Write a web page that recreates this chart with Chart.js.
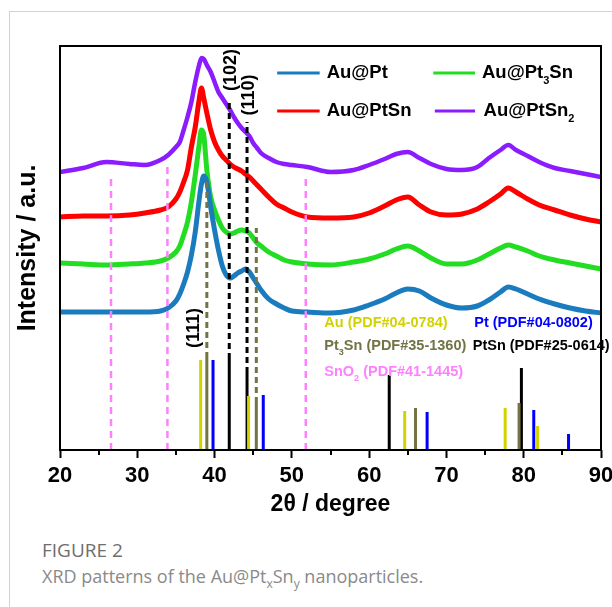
<!DOCTYPE html>
<html>
<head>
<meta charset="utf-8">
<script src="https://cdn.jsdelivr.net/npm/chart.js@4.4.0/dist/chart.umd.min.js"></script>
<style>
  html, body { margin: 0; padding: 0; background: #fff; }
  body { width: 612px; height: 607px; position: relative; overflow: hidden; }
  #frame { position: absolute; left: 9px; top: 11px; width: 620px; height: 620px; border-left: 1px solid #d2d2d2; border-top: 1px solid #d2d2d2; }
  #wrap { position: absolute; left: 0; top: 0; width: 612px; height: 525px; }
  .fig { position: absolute; left: 42px; top: 537px; font-family: 'Open Sans', 'Noto Sans', sans-serif; font-size: 19px; color: #6e6e6e; }
  .cap { position: absolute; left: 42px; top: 564px; font-family: 'Open Sans', 'Noto Sans', sans-serif; font-size: 18px; color: #8a8a8a; }
  .cap sub { font-size: 12px; }
</style>
</head>
<body>
<div id="frame"></div>
<div id="wrap"><canvas id="xrd" width="612" height="525"></canvas></div>
<div class="fig">FIGURE 2</div>
<div class="cap">XRD patterns of the Au@Pt<sub>x</sub>Sn<sub>y</sub> nanoparticles.</div>
<script>
// 2θ grid (degrees) shared by the four patterns
const twoTheta = [20, 23, 26, 29, 31, 33, 34, 35, 35.5, 36, 36.5, 37, 37.5, 38, 38.3, 38.6,
  39, 39.5, 40, 40.5, 41, 41.5, 42, 42.5, 43, 43.5, 44, 44.5, 45, 45.5, 46, 47,
  48, 49, 50, 52, 55, 58, 60, 62, 63.5, 65, 66.5, 68, 70, 72, 74, 75.5,
  77, 78, 79, 80.5, 82, 84, 86, 88, 90];

// intensities (a.u., already offset for stacking)
const auPt = [138, 138, 138, 138, 138, 139, 142, 149, 156, 166, 178, 195, 218, 250, 266, 274,
  268, 243, 220, 200, 184, 175, 172, 174, 177, 179, 181, 178, 172, 166, 160, 151,
  146, 142, 139, 138, 137, 140, 145, 151, 157, 161, 159, 152, 145, 142, 144, 150,
  158, 163, 161, 156, 151, 146, 142, 139, 137];
const auPt3Sn = [187, 186, 185, 186, 187, 189, 192, 198, 204, 215, 228, 248, 275, 305, 320, 315,
  280, 253, 240, 230, 222, 218, 216, 217, 219, 220, 219, 217, 212, 207, 204, 198,
  194, 190, 188, 186, 185, 188, 191, 196, 201, 204, 199, 192, 186, 186, 190, 196,
  202, 205, 203, 199, 194, 190, 187, 184, 181];
const auPtSn = [233, 234, 234, 235, 237, 240, 243, 251, 258, 268, 280, 303, 323, 350, 362, 352,
  337, 320, 308, 300, 294, 290, 286, 283, 281, 279, 276, 273, 269, 265, 261, 253,
  246, 242, 238, 233, 232, 233, 237, 244, 250, 253, 245, 238, 235, 236, 241, 248,
  256, 262, 258, 251, 245, 240, 235, 231, 228];
const auPtSn2 = [278, 282, 288, 286, 285, 290, 295, 303, 308, 320, 333, 348, 368, 385, 392, 391,
  385, 378, 368, 358, 352, 346, 340, 333, 327, 322, 318, 314, 307, 302, 297, 292,
  288, 286, 285, 283, 278, 280, 285, 291, 296, 298, 292, 286, 281, 280, 283, 292,
  300, 305, 300, 294, 288, 282, 279, 276, 273];

// standard reference patterns (stick positions / heights)
const auPos = [38.2, 44.4, 64.6, 77.6, 81.8];
const auH = [90, 54, 39, 42, 24];
const pt3snPos = [39.0, 45.4, 66.0, 79.4];
const pt3snH = [92, 47, 42, 47];
const ptPos = [39.8, 46.3, 67.5, 81.3, 85.8];
const ptH = [90, 55, 38, 40, 16];
const ptsnPos = [41.9, 44.2, 62.6, 79.7];
const ptsnH = [91, 77, 75, 82];

// dashed guides up into the patterns
const pt3snGuidePos = [39.0, 45.4];
const pt3snGuideTop = [270, 222];
const ptsnGuidePos = [41.9, 44.2];
const ptsnGuideTop = [348, 328];
const sno2Pos = [26.6, 33.9, 51.8];
const sno2Top = [275, 285, 276];

const xTicks = [20, 30, 40, 50, 60, 70, 80, 90];

const C = {
  auPt: '#1a7cbf', auPt3Sn: '#22dd22', auPtSn: '#ff0000', auPtSn2: '#8a1cff',
  au: '#d2d200', pt: '#0000ff', pt3sn: '#737345', ptsn: '#000000', sno2: '#ff80ff'
};
const FONT = '"Liberation Sans", Arial, sans-serif';

function curve(label, ys, color, width) {
  return {
    label, data: twoTheta.map((x, i) => ({ x, y: ys[i] })),
    borderColor: color, borderWidth: width, pointRadius: 0,
    cubicInterpolationMode: 'monotone'
  };
}

// vertical segments from y0 to y1, separated by gaps
function segments(pos, y0, y1) {
  const pts = [];
  pos.forEach((x, i) => {
    pts.push({ x, y: Array.isArray(y0) ? y0[i] : y0 }, { x, y: y1[i] }, { x, y: null });
  });
  return pts;
}

function sticks(label, pos, h, color) {
  return { label, data: segments(pos, 0, h), borderColor: color, borderWidth: 3, pointRadius: 0, spanGaps: false, borderCapStyle: 'butt' };
}

function guide(label, pos, from, top, color, width, dash) {
  return { label, data: segments(pos, from, top), borderColor: color, borderWidth: width, borderDash: dash, pointRadius: 0, spanGaps: false, borderCapStyle: 'butt' };
}

function at(arrPos, arrH, xs) {
  return xs.map(v => arrH[arrPos.indexOf(v)]);
}

const datasets = [
  guide('PtSn guide', ptsnGuidePos, at(ptsnPos, ptsnH, ptsnGuidePos), ptsnGuideTop, C.ptsn, 3, [6, 4]),
  guide('Pt3Sn guide', pt3snGuidePos, at(pt3snPos, pt3snH, pt3snGuidePos), pt3snGuideTop, C.pt3sn, 3, [6, 4]),
  guide('SnO2', sno2Pos, 0, sno2Top, C.sno2, 2.5, [7, 5]),
  curve('Au@Pt', auPt, C.auPt, 5),
  curve('Au@Pt3Sn', auPt3Sn, C.auPt3Sn, 5),
  curve('Au@PtSn', auPtSn, C.auPtSn, 5),
  curve('Au@PtSn2', auPtSn2, C.auPtSn2, 4.5),
  sticks('Au', auPos, auH, C.au),
  sticks('Pt3Sn', pt3snPos, pt3snH, C.pt3sn),
  sticks('Pt', ptPos, ptH, C.pt),
  sticks('PtSn', ptsnPos, ptsnH, C.ptsn)
];

// text with subscripts: parts beginning with '_' are lowered
function richText(ctx, parts, x, y, size, color) {
  const big = `bold ${size}px ${FONT}`;
  const small = `bold ${Math.round(size * 0.62)}px ${FONT}`;
  ctx.fillStyle = color;
  ctx.textBaseline = 'middle';
  ctx.textAlign = 'left';
  let cx = x;
  parts.forEach(p => {
    const sub = p[0] === '_';
    const t = sub ? p.slice(1) : p;
    ctx.font = sub ? small : big;
    ctx.fillText(t, cx, sub ? y + size * 0.42 : y);
    cx += ctx.measureText(t).width;
  });
}

const legendItems = [
  { parts: ['Au@Pt'], color: C.auPt, x0: 48.1, x1: 53.6, tx: 54.5, y: 377 },
  { parts: ['Au@Pt', '_3', 'Sn'], color: C.auPt3Sn, x0: 68.3, x1: 73.7, tx: 74.6, y: 377 },
  { parts: ['Au@PtSn'], color: C.auPtSn, x0: 48.1, x1: 53.6, tx: 54.5, y: 339 },
  { parts: ['Au@PtSn', '_2'], color: C.auPtSn2, x0: 68.5, x1: 73.7, tx: 74.8, y: 339 }
];

const phaseLabels = [
  { parts: ['Au (PDF#04-0784)'], color: C.au, x: 54.2, y: 127 },
  { parts: ['Pt (PDF#04-0802)'], color: C.pt, x: 73.6, y: 127 },
  { parts: ['Pt', '_3', 'Sn (PDF#35-1360)'], color: C.pt3sn, x: 54.2, y: 104 },
  { parts: ['PtSn (PDF#25-0614)'], color: C.ptsn, x: 73.4, y: 104 },
  { parts: ['SnO', '_2', ' (PDF#41-1445)'], color: C.sno2, x: 54.2, y: 78 }
];

const hklLabels = [
  { text: '(111)', x: 37.3, y: 122 },
  { text: '(102)', x: 42.1, y: 380 },
  { text: '(110)', x: 44.4, y: 355 }
];

const overlay = {
  id: 'overlay',
  afterDraw(chart) {
    const { ctx, chartArea: a, scales: { x, y } } = chart;
    ctx.save();
    ctx.strokeStyle = '#000';
    ctx.lineWidth = 2;
    ctx.strokeRect(a.left, a.top, a.right - a.left, a.bottom - a.top);

    // minor ticks between the labelled ones
    for (let v = 25; v < 90; v += 10) {
      const px = Math.round(x.getPixelForValue(v));
      ctx.beginPath();
      ctx.moveTo(px, a.bottom);
      ctx.lineTo(px, a.bottom + 5);
      ctx.stroke();
    }

    legendItems.forEach(it => {
      const py = y.getPixelForValue(it.y);
      ctx.strokeStyle = it.color;
      ctx.lineWidth = 3;
      ctx.beginPath();
      ctx.moveTo(x.getPixelForValue(it.x0), py);
      ctx.lineTo(x.getPixelForValue(it.x1), py);
      ctx.stroke();
      richText(ctx, it.parts, x.getPixelForValue(it.tx), py, 18.5, '#000');
    });

    phaseLabels.forEach(it => {
      richText(ctx, it.parts, x.getPixelForValue(it.x), y.getPixelForValue(it.y), 14.5, it.color);
    });

    ctx.fillStyle = '#000';
    ctx.font = `bold 18px ${FONT}`;
    ctx.textAlign = 'center';
    ctx.textBaseline = 'middle';
    hklLabels.forEach(it => {
      ctx.save();
      ctx.translate(x.getPixelForValue(it.x), y.getPixelForValue(it.y));
      ctx.rotate(-Math.PI / 2);
      ctx.fillText(it.text, 0, 0);
      ctx.restore();
    });
    ctx.restore();
  }
};

new Chart(document.getElementById('xrd'), {
  type: 'line',
  data: { datasets },
  options: {
    responsive: false,
    animation: false,
    events: [],
    layout: { padding: { left: 0, right: 11, top: 46, bottom: 0 } },
    plugins: { legend: { display: false }, tooltip: { enabled: false } },
    scales: {
      x: {
        type: 'linear', min: 20, max: 90,
        afterBuildTicks: s => { s.ticks = xTicks.map(v => ({ value: v })); },
        ticks: { color: '#000', padding: 5, font: { family: FONT, size: 22, weight: 'bold' } },
        grid: { drawOnChartArea: false, tickLength: 8, tickWidth: 2, tickColor: '#000' },
        border: { display: false },
        title: { display: true, text: '2θ / degree', color: '#000', padding: { top: 0, bottom: 7 }, font: { family: FONT, size: 23, weight: 'bold' } },
        afterFit: s => { s.height = 75; s.paddingLeft = 0; s.paddingRight = 0; }
      },
      y: {
        min: 0, max: 404,
        ticks: { display: false },
        grid: { display: false },
        border: { display: false },
        title: { display: true, text: 'Intensity / a.u.', color: '#000', padding: { top: 13, bottom: 0 }, font: { family: FONT, size: 25, weight: 'bold' } },
        afterFit: s => { s.width = 60; }
      }
    }
  },
  plugins: [overlay]
});
</script>
</body>
</html>
